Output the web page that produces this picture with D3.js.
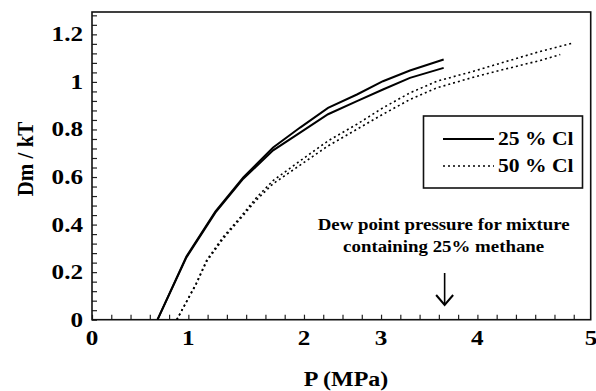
<!DOCTYPE html>
<html>
<head>
<meta charset="utf-8">
<script src="https://cdnjs.cloudflare.com/ajax/libs/d3/7.8.5/d3.min.js"></script>
<style>
  *{margin:0;padding:0;}
  body{background:#fff;width:596px;height:391px;overflow:hidden;}
  svg{display:block;}
</style>
</head>
<body>
<svg id="chart" width="596" height="391"></svg>
<script>
// pressure (MPa) and Dm/kT
var cl25aP = [0.68, 0.98, 1.28, 1.57, 1.88, 2.16, 2.45, 2.75, 3.02, 3.30, 3.65];
var cl25aD = [0, 0.266, 0.455, 0.598, 0.724, 0.808, 0.891, 0.947, 1.003, 1.048, 1.094];
var cl25bP = [0.68, 0.98, 1.28, 1.57, 1.88, 2.16, 2.45, 2.75, 3.02, 3.30, 3.65];
var cl25bD = [0, 0.262, 0.450, 0.593, 0.712, 0.787, 0.864, 0.919, 0.968, 1.017, 1.059];
var cl50aP = [0.88, 1.08, 1.19, 1.36, 1.54, 1.71, 1.88, 2.16, 2.45, 2.75, 3.02, 3.30, 3.58, 3.96, 4.30, 4.65, 4.99];
var cl50aD = [0, 0.152, 0.25, 0.347, 0.431, 0.515, 0.585, 0.668, 0.752, 0.822, 0.891, 0.954, 1.003, 1.045, 1.086, 1.128, 1.163];
var cl50bP = [0.88, 1.08, 1.19, 1.36, 1.54, 1.71, 1.88, 2.16, 2.45, 2.75, 3.02, 3.30, 3.58, 3.96, 4.30, 4.65, 4.86];
var cl50bD = [0, 0.148, 0.245, 0.340, 0.425, 0.505, 0.572, 0.650, 0.731, 0.801, 0.864, 0.926, 0.975, 1.020, 1.055, 1.090, 1.115];

var legendLabels = ["25 % Cl", "50 % Cl"];
// tick labels and where the original figure put them
var xTickLabels = ["0", "1", "2", "3", "4", "5"];
var xTickAt = [0, 1, 2.2, 3, 4, 5.18];
var yTickValues = [0, 0.2, 0.4, 0.6, 0.8, 1, 1.2];
var yTickLabels = ["0", "0.2", "0.4", "0.6", "0.8", "1", "1.2"];
var dewPoint = 3.66;
var noteLines = ["Dew point pressure for mixture", "containing 25% methane"];

var FONT = "'Liberation Serif', 'Times New Roman', Times, serif";
var svg = d3.select("#chart");
var x = d3.scaleLinear().domain([0, 5.176]).range([92, 590.7]);
var y = d3.scaleLinear().domain([0, 1.294]).range([319.7, 12]);

// the original figure is a bit stretched sideways, so is its text
function label(sel, size, sx){
  return sel.attr("font-family", FONT).attr("font-weight", "bold")
    .attr("font-size", size).attr("transform-origin", null);
}

// minor ticks, pointing inward
var xMinor = d3.range(0, 26).map(function(i){ return i * 0.2; });
var yMinor = d3.range(0, 33).map(function(i){ return i * 0.04; });

svg.append("g")
  .attr("transform", "translate(0," + y(0) + ")")
  .call(d3.axisBottom(x).tickValues(xMinor).tickSize(-5).tickSizeOuter(0).tickFormat(""))
  .call(function(g){ g.selectAll("line").attr("stroke", "#222").attr("stroke-width", 1.2); g.select(".domain").remove(); });

svg.append("g")
  .attr("transform", "translate(" + x(0) + ",0)")
  .call(d3.axisLeft(y).tickValues(yMinor).tickSize(-5).tickSizeOuter(0).tickFormat(""))
  .call(function(g){ g.selectAll("line").attr("stroke", "#222").attr("stroke-width", 1.2); g.select(".domain").remove(); });

// frame
svg.append("rect")
  .attr("x", x(0)).attr("y", y.range()[1])
  .attr("width", x.range()[1] - x(0)).attr("height", y(0) - y.range()[1])
  .attr("fill", "none").attr("stroke", "#111").attr("stroke-width", 1.6);

// tick labels
svg.selectAll(".xl").data(xTickLabels).enter().append("text")
  .attr("transform", function(d, i){ return "translate(" + x(xTickAt[i]) + ",345) scale(1.17,1)"; })
  .attr("text-anchor", "middle")
  .call(label, 21.5)
  .text(function(d){ return d; });

svg.selectAll(".yl").data(yTickLabels).enter().append("text")
  .attr("transform", function(d, i){ return "translate(83," + (y(yTickValues[i]) + 7) + ") scale(1.17,1)"; })
  .attr("text-anchor", "end")
  .call(label, 21.5)
  .text(function(d){ return d; });

// axis titles
svg.append("text").attr("transform", "translate(346,386) scale(1.2,1)").attr("text-anchor", "middle")
  .call(label, 20).text("P (MPa)");
svg.append("text").attr("transform", "translate(33,159) rotate(-90) scale(1.05,1.15)").attr("text-anchor", "middle")
  .call(label, 20).text("Dm / kT");

// curves
var line = d3.line().x(function(d){ return x(d[0]); }).y(function(d){ return y(d[1]); });
function pairs(p, v){ return p.map(function(d, i){ return [d, v[i]]; }); }

var series = [
  {pts: pairs(cl25aP, cl25aD), dash: null},
  {pts: pairs(cl25bP, cl25bD), dash: null},
  {pts: pairs(cl50aP, cl50aD), dash: "2,3"},
  {pts: pairs(cl50bP, cl50bD), dash: "2,3"}
];
svg.selectAll(".curve").data(series).enter().append("path")
  .attr("d", function(d){ return line(d.pts); })
  .attr("fill", "none").attr("stroke", "#000")
  .attr("stroke-width", function(d){ return d.dash ? 1.6 : 2; })
  .attr("stroke-dasharray", function(d){ return d.dash; });

// legend
svg.append("rect").attr("x", 423.5).attr("y", 116).attr("width", 159).attr("height", 72)
  .attr("fill", "#fff").attr("stroke", "#111").attr("stroke-width", 1.6);
var lg = svg.selectAll(".lg").data(legendLabels).enter().append("g")
  .attr("transform", function(d, i){ return "translate(0," + (139 + i * 27) + ")"; });
lg.append("line").attr("x1", 443).attr("x2", 494).attr("y1", 0).attr("y2", 0)
  .attr("stroke", "#000").attr("stroke-width", function(d, i){ return i ? 1.6 : 2; })
  .attr("stroke-dasharray", function(d, i){ return i ? "2,3" : null; });
lg.append("text").attr("transform", "translate(498,6) scale(1.2,1)")
  .call(label, 18).text(function(d){ return d; });

// annotation
svg.selectAll(".note").data(noteLines).enter().append("text")
  .attr("transform", function(d, i){ return "translate(" + (x(dewPoint) - 1) + "," + (230 + i * 21.5) + ") scale(1.11,1)"; })
  .attr("text-anchor", "middle")
  .call(label, 17)
  .text(function(d){ return d; });

var ax = x(dewPoint);
svg.append("line").attr("x1", ax).attr("x2", ax).attr("y1", 273).attr("y2", 305)
  .attr("stroke", "#000").attr("stroke-width", 1.6);
svg.append("path")
  .attr("d", "M" + (ax - 8.5) + ",295 L" + ax + ",305 L" + (ax + 8.5) + ",295")
  .attr("fill", "none").attr("stroke", "#000").attr("stroke-width", 2);
</script>
</body>
</html>
